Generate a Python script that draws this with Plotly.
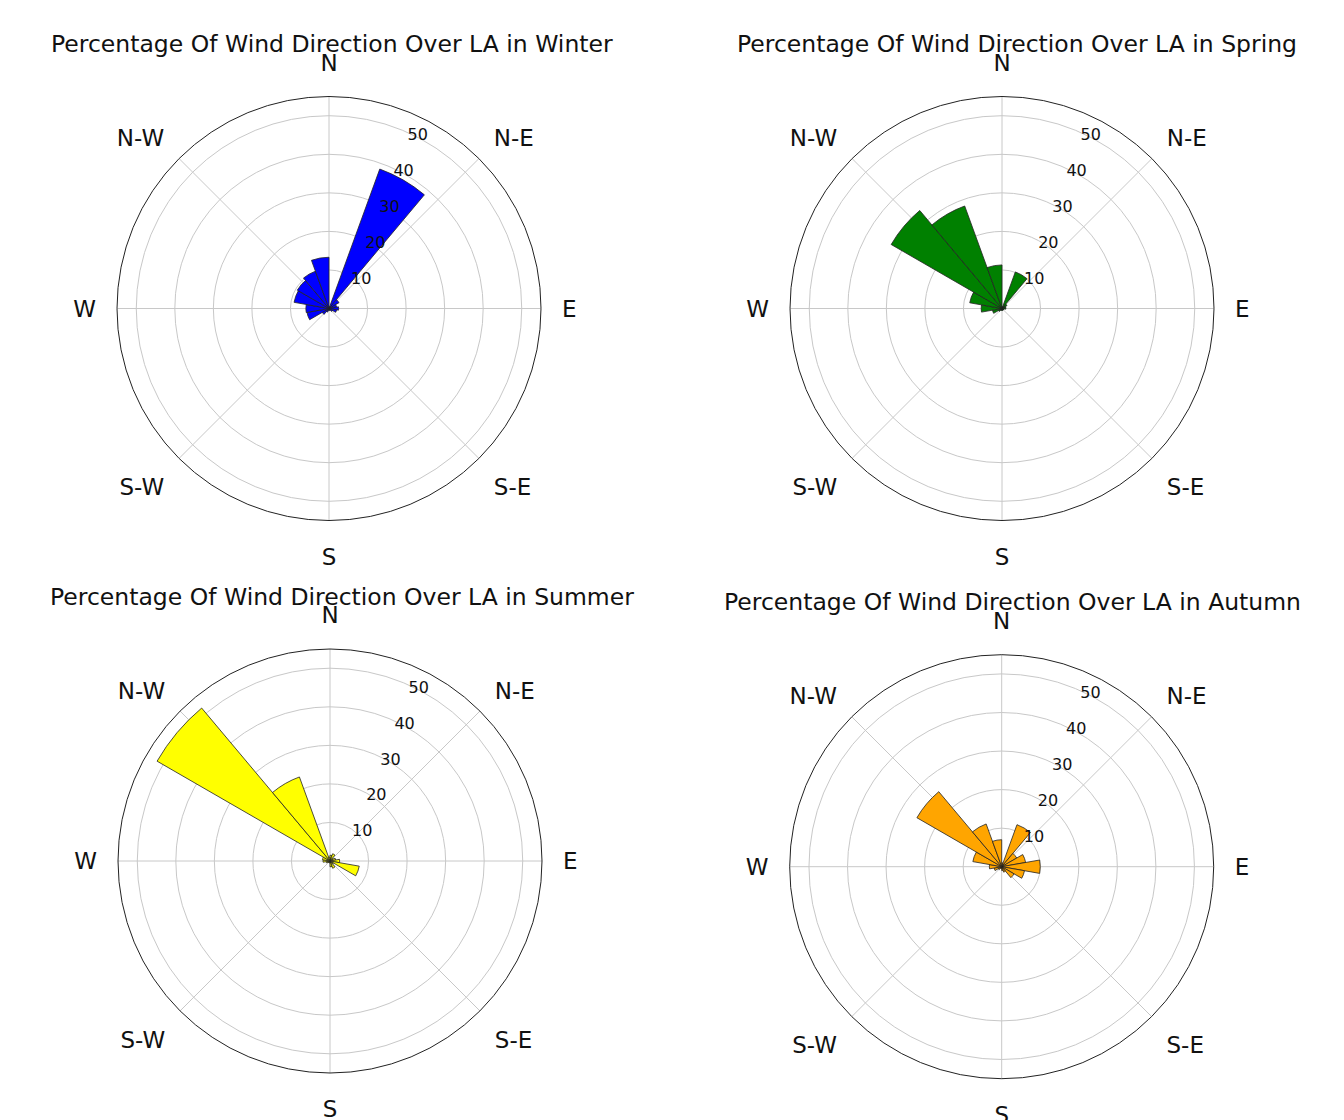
import plotly.graph_objects as go

# Direction bin centres (degrees clockwise from North), 20-degree bins
directions = [10, 30, 50, 70, 90, 110, 130, 150, 170, 190, 210, 230, 250, 270, 290, 310, 330, 350]

winter = [0.5, 38.5, 3.0, 2.0, 2.5, 2.0, 1.0, 0.5, 0.5, 0.5, 1.0, 2.0, 5.8, 6.0, 9.2, 9.5, 10.3, 13.3]
spring = [0.5, 10.1, 1.5, 1.0, 1.0, 0.5, 0.5, 0.5, 0.5, 0.5, 0.5, 1.0, 2.5, 5.4, 8.5, 33.2, 28.3, 11.3]
summer = [1.5, 2.0, 1.0, 1.5, 2.5, 7.7, 1.0, 2.0, 1.5, 0.5, 0.5, 0.5, 1.0, 1.8, 2.0, 51.8, 23.2, 1.0]
autumn = [1.0, 11.6, 4.5, 6.3, 10.0, 6.0, 3.7, 1.5, 1.0, 0.5, 0.5, 1.0, 2.0, 3.2, 7.6, 25.4, 11.8, 7.0]

compass_vals = [0, 45, 90, 135, 180, 225, 270, 315]
compass_text = ["N", "N-E", "E", "S-E", "S", "S-W", "W", "N-W"]
radial_ticks = [10, 20, 30, 40, 50]

seasons = ["Winter", "Spring", "Summer", "Autumn"]
series = [winter, spring, summer, autumn]
colors = ["#0000ff", "#008000", "#ffff00", "#ffa500"]

W, H = 1344, 1120
# polar centres (px) and radius
centres = [(329, 308.5), (1002, 308.5), (330, 861), (1001.7, 866.7)]
R = 212
title_pos = [(332, 44), (1017, 44), (342, 597), (1012, 602)]

fig = go.Figure()
layout_polars = {}
annotations = []
for i, (name, vals, col, (cx, cy)) in enumerate(zip(seasons, series, colors, centres)):
    pname = "polar" if i == 0 else f"polar{i+1}"
    fig.add_trace(go.Barpolar(
        r=vals, theta=directions, width=[20] * len(directions),
        marker=dict(color=col, line=dict(color="#222222", width=0.8)),
        subplot=pname, name=name, showlegend=False,
    ))
    layout_polars[pname] = dict(
        domain=dict(x=[(cx - R) / W, (cx + R) / W], y=[(H - (cy + R)) / H, (H - (cy - R)) / H]),
        bgcolor="white",
        angularaxis=dict(
            direction="clockwise", rotation=90,
            tickmode="array", tickvals=compass_vals, ticktext=compass_text,
            tickfont=dict(family="DejaVu Sans", size=23, color="#111111"),
            ticks="outside", ticklen=16, tickcolor="rgba(0,0,0,0)",
            showline=True, linecolor="#222222", linewidth=1,
            showgrid=True, gridcolor="#c8c8c8", gridwidth=1,
            layer="above traces",
        ),
        radialaxis=dict(
            range=[0, 55], angle=68.5, tickangle=68.5,
            tickmode="array", tickvals=radial_ticks,
            ticktext=[str(v) for v in radial_ticks],
            tickfont=dict(family="DejaVu Sans", size=16, color="#111111"),
            showline=False, ticks="",
            showgrid=True, gridcolor="#c8c8c8", gridwidth=1,
            layer="above traces",
        ),
    )
    tx, ty = title_pos[i]
    annotations.append(dict(
        text=f"Percentage Of Wind Direction Over LA in {name}",
        x=tx / W, y=(H - ty) / H, xref="paper", yref="paper",
        xanchor="center", yanchor="middle", showarrow=False,
        font=dict(family="DejaVu Sans", size=23.5, color="#111111"),
    ))

fig.update_layout(
    width=W, height=H, autosize=False,
    margin=dict(l=0, r=0, t=0, b=0),
    paper_bgcolor="white", plot_bgcolor="white",
    annotations=annotations,
    **layout_polars,
)

fig.write_html("out.html", config={"displayModeBar": False},
               post_script="document.body.style.margin='0';")
